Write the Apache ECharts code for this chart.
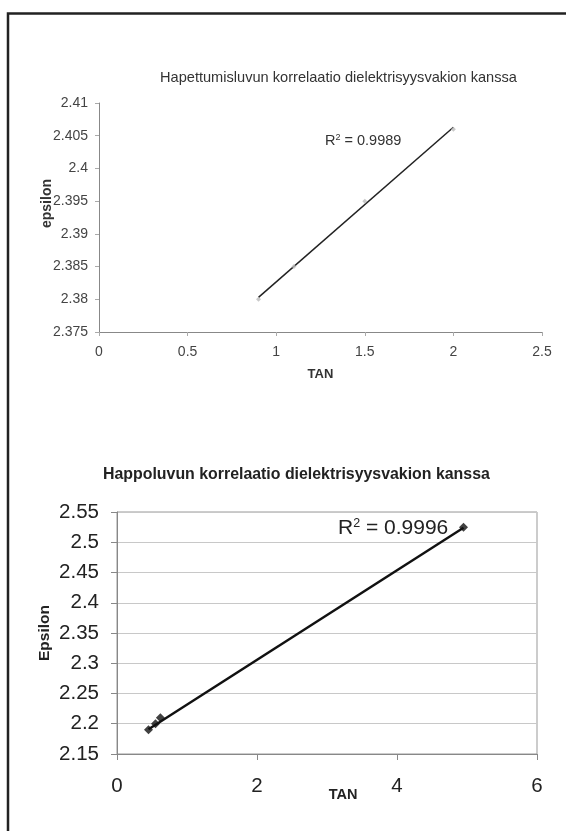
<!DOCTYPE html>
<html lang="fi">
<head>
    <meta charset="UTF-8">
    <title>Korrelaatiot</title>
    <script src="https://cdn.jsdelivr.net/npm/echarts/dist/echarts.min.js"></script>
    <style>
        html, body { margin: 0; padding: 0; background: #fff; }
        #chart { width: 566px; height: 831px; }
    </style>
</head>
<body>
<div id="chart"></div>
<script>
    // ylempi kuva: hapettumisluku
    var topTan = [0.9, 1.1, 1.5, 2.0];
    var topEps = [2.380, 2.385, 2.395, 2.406];
    var topTrendTan = [0.9, 2.0];
    var topTrendEps = [2.3803, 2.4063];
    var topR2 = '0.9989';

    // alempi kuva: happoluku
    var botTan = [0.45, 0.55, 0.62, 4.95];
    var botEps = [2.19, 2.20, 2.21, 2.525];
    var botTrendTan = [0.45, 4.95];
    var botTrendEps = [2.191, 2.524];
    var botR2 = '0.9996';

    var FONT = '"Liberation Sans", Arial, sans-serif';

    function pairs(xs, ys) {
        return xs.map(function (x, i) { return [x, ys[i]]; });
    }

    var chart = echarts.init(document.getElementById('chart'));

    var option = {
        animation: false,
        backgroundColor: '#fff',
        textStyle: { fontFamily: FONT },
        title: [
            {
                text: 'Hapettumisluvun korrelaatio dielektrisyysvakion kanssa',
                left: 160, top: 70, padding: 0,
                textStyle: { fontSize: 14.6, fontWeight: 'normal', color: '#333', fontFamily: FONT }
            },
            {
                text: 'Happoluvun korrelaatio dielektrisyysvakion kanssa',
                left: 103, top: 467, padding: 0,
                textStyle: { fontSize: 15.9, fontWeight: 'bold', color: '#222', fontFamily: FONT }
            }
        ],
        grid: [
            { left: 99, top: 103, width: 443, height: 229 },
            { left: 117, top: 512, width: 420, height: 242, show: true, borderColor: '#999', borderWidth: 1 }
        ],
        xAxis: [
            {
                gridIndex: 0, type: 'value', min: 0, max: 2.5, interval: 0.5,
                name: 'TAN', nameLocation: 'middle', nameGap: 36, nameMoveOverlap: false,
                nameTextStyle: { fontSize: 13, fontWeight: 'bold', color: '#333' },
                axisLine: { lineStyle: { color: '#888' } },
                axisTick: { show: true, length: 4, lineStyle: { color: '#aaa' } },
                axisLabel: { fontSize: 14, color: '#444', margin: 13 },
                splitLine: { show: false }
            },
            {
                gridIndex: 1, type: 'value', min: 0, max: 6, interval: 2,
                name: 'TAN', nameLocation: 'middle', nameGap: 33, nameMoveOverlap: false,
                nameTextStyle: { fontSize: 14.5, fontWeight: 'bold', color: '#222', padding: [0, 0, 0, 32] },
                axisLine: { lineStyle: { color: '#888' } },
                axisTick: { show: true, length: 6, lineStyle: { color: '#888' } },
                axisLabel: { fontSize: 20.5, color: '#222', margin: 22 },
                splitLine: { show: false }
            }
        ],
        yAxis: [
            {
                gridIndex: 0, type: 'value', min: 2.375, max: 2.41, interval: 0.005,
                name: 'epsilon', nameLocation: 'middle', nameGap: 45, nameMoveOverlap: false,
                nameTextStyle: { fontSize: 14, fontWeight: 'bold', color: '#333', padding: [0, 0, 0, 28] },
                axisLine: { show: true, lineStyle: { color: '#888' } },
                axisTick: { show: true, length: 4, lineStyle: { color: '#aaa' } },
                axisLabel: { fontSize: 14, color: '#444', margin: 11 },
                splitLine: { show: false }
            },
            {
                gridIndex: 1, type: 'value', min: 2.15, max: 2.55, interval: 0.05,
                name: 'Epsilon', nameLocation: 'middle', nameGap: 64, nameMoveOverlap: false,
                nameTextStyle: { fontSize: 15.5, fontWeight: 'bold', color: '#222' },
                axisLine: { show: true, lineStyle: { color: '#888' } },
                axisTick: { show: true, length: 6, lineStyle: { color: '#888' } },
                axisLabel: { fontSize: 20.5, color: '#222', margin: 18 },
                splitLine: { show: true, lineStyle: { color: '#c8c8c8' } }
            }
        ],
        series: [
            {
                type: 'line', xAxisIndex: 0, yAxisIndex: 0,
                data: pairs(topTrendTan, topTrendEps),
                showSymbol: false, lineStyle: { color: '#222', width: 1.5 }, z: 2
            },
            {
                type: 'scatter', xAxisIndex: 0, yAxisIndex: 0,
                data: pairs(topTan, topEps),
                symbol: 'diamond', symbolSize: 5, itemStyle: { color: '#bbb' }, z: 3
            },
            {
                type: 'line', xAxisIndex: 1, yAxisIndex: 1,
                data: pairs(botTrendTan, botTrendEps),
                showSymbol: false, lineStyle: { color: '#111', width: 2.5 }, z: 2
            },
            {
                type: 'scatter', xAxisIndex: 1, yAxisIndex: 1,
                data: pairs(botTan, botEps),
                symbol: 'diamond', symbolSize: 9, itemStyle: { color: '#111' }, z: 3
            }
        ],
        graphic: [
            // kehys (vasen ja ylä)
            {
                type: 'polyline', silent: true,
                shape: { points: [[8, 831], [8, 13.5], [566, 13.5]] },
                style: { stroke: '#222', lineWidth: 2.5, fill: null }
            },
            {
                type: 'text', left: 325, top: 133, z: 10,
                style: {
                    text: 'R{s|2} = ' + topR2,
                    font: '14.5px ' + FONT, fill: '#333',
                    rich: { s: { fontSize: 9, verticalAlign: 'top', padding: [0, 0, 7, 0], fill: '#333' } }
                }
            },
            {
                type: 'text', left: 338, top: 517, z: 1,
                style: {
                    text: 'R{s|2} = ' + botR2,
                    font: '21px ' + FONT, fill: '#222',
                    rich: { s: { fontSize: 12.5, verticalAlign: 'top', padding: [0, 0, 10, 0], fill: '#222' } }
                }
            }
        ]
    };

    chart.setOption(option);
</script>
</body>
</html>
